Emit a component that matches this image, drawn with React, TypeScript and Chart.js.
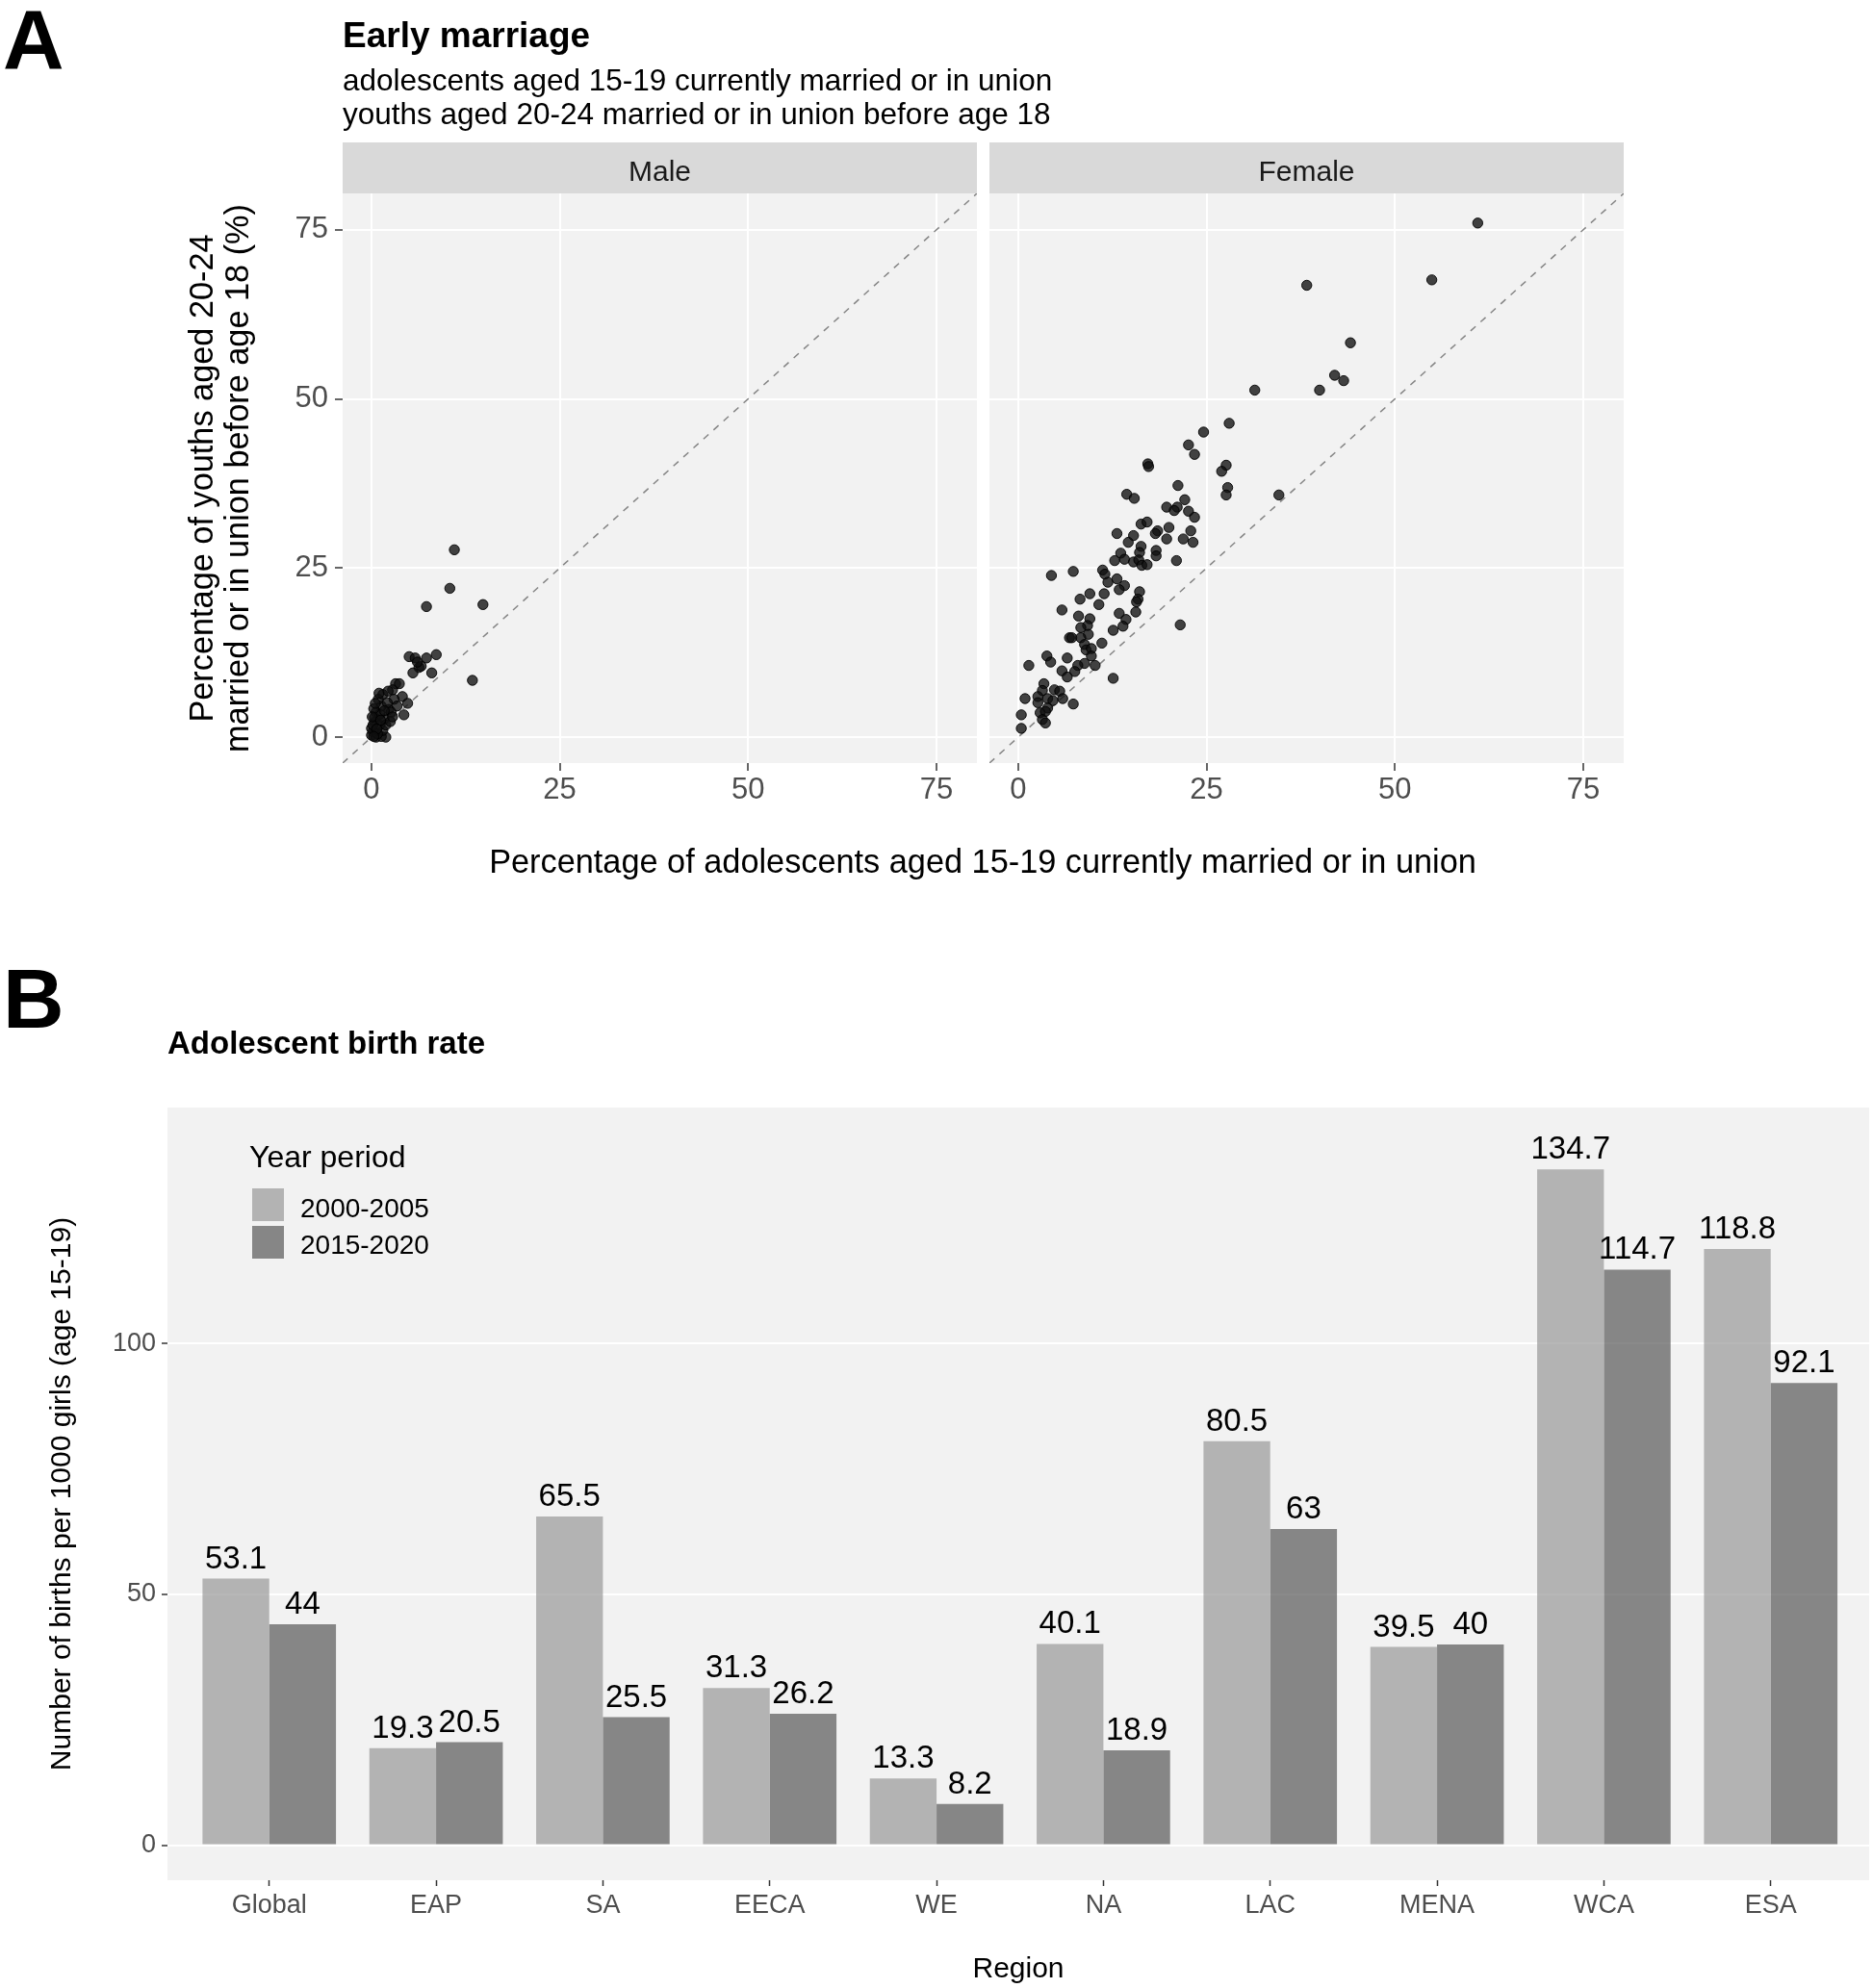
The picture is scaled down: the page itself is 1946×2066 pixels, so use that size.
import React, { useEffect, useRef } from "react";
import { Chart, registerables } from "chart.js";

Chart.register(...registerables);

const FONT = "'Liberation Sans', Arial, Helvetica, sans-serif";

// ---------- Panel A data ----------
const maleX = [11.0, 10.4, 7.3, 14.8, 13.4, 8.6, 5.0, 5.8, 7.3, 6.3, 6.6, 5.5, 8.0, 6.1, 3.2, 3.7, 2.8, 4.1, 4.8, 4.3, 3.0, 2.3, 1.5, 1.3, 0.6, 0.4, 0.2, 1.9, 1.1, 1.7, 2.1, 3.4, 2.6, 0.9, 0.0, 0.0, 0.6, 1.3, 1.5, 0.4, 1.1, 1.9, 1.7, 0.3, 0.8, 0.2, 2.5, 1.0, 2.2, 0.5, 0.1, 1.2, 0.7, 2.8, 0.3];
const maleY = [27.7, 22.0, 19.3, 19.6, 8.4, 12.2, 11.9, 11.7, 11.7, 10.3, 10.5, 9.5, 9.5, 11.1, 7.9, 7.9, 7.0, 6.0, 5.0, 3.3, 5.6, 4.1, 6.3, 4.6, 3.7, 2.2, 0.8, 0.0, 1.8, 2.7, 5.1, 4.6, 3.7, 5.6, 0.3, 1.3, 0.0, 0.1, 1.0, 2.9, 3.4, 1.8, 3.9, 4.2, 0.5, 1.8, 2.3, 6.5, 6.8, 5.0, 3.0, 2.5, 1.2, 3.0, 0.1];

const femaleX = [61.0, 38.3, 54.9, 44.1, 42.0, 43.2, 31.4, 40.0, 28.0, 24.6, 22.6, 23.4, 17.2, 17.3, 27.6, 27.0, 27.8, 27.6, 34.6, 21.2, 14.4, 15.4, 22.1, 19.7, 21.1, 20.7, 22.6, 23.4, 16.3, 17.1, 20.0, 18.5, 18.2, 22.9, 13.1, 15.3, 19.7, 21.9, 23.2, 14.6, 16.3, 13.6, 16.1, 18.3, 18.3, 12.8, 14.1, 15.3, 16.0, 16.4, 17.1, 21.0, 4.4, 7.3, 11.2, 11.5, 11.9, 13.1, 14.1, 13.4, 11.4, 9.5, 8.2, 10.7, 16.1, 15.9, 15.7, 5.8, 8.0, 13.4, 15.6, 14.3, 13.9, 12.6, 9.5, 9.2, 8.3, 9.3, 6.8, 7.1, 8.3, 11.1, 21.5, 8.8, 9.0, 9.7, 9.7, 3.8, 4.3, 6.5, 1.4, 8.8, 10.2, 7.9, 5.8, 7.5, 6.5, 12.6, 3.4, 3.2, 4.8, 5.5, 5.9, 0.9, 2.6, 2.6, 3.9, 4.6, 7.3, 3.9, 2.9, 3.6, 0.4, 3.2, 3.6, 0.4];
const femaleY = [76.0, 66.8, 67.6, 58.3, 53.5, 52.7, 51.3, 51.3, 46.4, 45.1, 43.2, 41.8, 40.4, 40.0, 40.2, 39.3, 36.9, 35.8, 35.8, 37.2, 35.9, 35.3, 35.1, 34.0, 34.0, 33.5, 33.4, 32.5, 31.5, 31.8, 31.0, 30.5, 30.1, 30.5, 30.1, 29.8, 29.3, 29.3, 28.8, 28.8, 28.2, 27.2, 27.3, 27.6, 26.8, 26.1, 26.3, 25.9, 26.2, 25.4, 25.5, 26.1, 23.9, 24.5, 24.7, 24.1, 22.9, 23.4, 22.4, 21.8, 21.2, 21.2, 20.4, 19.6, 21.5, 20.4, 20.0, 18.8, 17.9, 18.3, 18.5, 17.4, 16.4, 15.8, 17.5, 16.5, 16.2, 15.2, 14.7, 14.7, 14.7, 13.9, 16.6, 13.7, 12.9, 13.1, 12.0, 12.0, 11.1, 11.7, 10.6, 10.9, 10.6, 10.6, 9.8, 9.7, 8.9, 8.7, 7.9, 6.9, 7.0, 6.8, 5.7, 5.7, 6.0, 5.1, 5.7, 5.4, 4.9, 4.3, 3.6, 3.8, 3.3, 2.6, 2.1, 1.3];

const scatterTicks = [0, 25, 50, 75];
const AX_MIN = -3.83;
const AX_MAX = 80.38;

// ---------- Panel B data ----------
const regions = ["Global", "EAP", "SA", "EECA", "WE", "NA", "LAC", "MENA", "WCA", "ESA"];
const rate2000 = [53.1, 19.3, 65.5, 31.3, 13.3, 40.1, 80.5, 39.5, 134.7, 118.8];
const rate2015 = [44, 20.5, 25.5, 26.2, 8.2, 18.9, 63, 40, 114.7, 92.1];
const periodLabels = ["2000-2005", "2015-2020"];
const barTicks = [0, 50, 100];

const W = 1946;
const TOP_H = 960;
const BOT_H = 1106;

const panelBg = {
  id: "panelBg",
  beforeDraw(chart: any) {
    const { ctx, chartArea: a } = chart;
    ctx.save();
    ctx.fillStyle = "#f2f2f2";
    ctx.fillRect(a.left, a.top, a.right - a.left, a.bottom - a.top);
    ctx.restore();
  },
};

function stripPlugin(label: string) {
  return {
    id: "strip" + label,
    afterDraw(chart: any) {
      const { ctx, chartArea: a } = chart;
      ctx.save();
      ctx.fillStyle = "#d9d9d9";
      ctx.fillRect(a.left, 148, a.right - a.left, a.top - 148);
      ctx.fillStyle = "#1a1a1a";
      ctx.font = `30px ${FONT}`;
      ctx.textAlign = "center";
      ctx.textBaseline = "alphabetic";
      ctx.fillText(label, (a.left + a.right) / 2, 188);
      ctx.restore();
    },
  };
}

const topDecor = {
  id: "topDecor",
  afterDraw(chart: any) {
    const { ctx, chartArea: a } = chart;
    ctx.save();
    ctx.fillStyle = "#000";
    ctx.textBaseline = "alphabetic";
    ctx.textAlign = "left";
    ctx.font = `bold 88px ${FONT}`;
    ctx.fillText("A", 3, 71);
    ctx.font = `bold 37px ${FONT}`;
    ctx.fillText("Early marriage", 356, 49);
    ctx.font = `31.5px ${FONT}`;
    ctx.fillText("adolescents aged 15-19 currently married or in union", 356, 94);
    ctx.fillText("youths aged 20-24 married or in union before age 18", 356, 129);
    // x axis title (shared by both panels)
    ctx.font = `34.3px ${FONT}`;
    ctx.textAlign = "center";
    ctx.fillText("Percentage of adolescents aged 15-19 currently married or in union", 1021, 907);
    // y axis title, two lines, rotated
    const cy = (a.top + a.bottom) / 2;
    ctx.save();
    ctx.translate(221, cy);
    ctx.rotate(-Math.PI / 2);
    ctx.fillText("Percentage of youths aged 20-24", 0, 0);
    ctx.restore();
    ctx.save();
    ctx.translate(258, cy);
    ctx.rotate(-Math.PI / 2);
    ctx.fillText("married or in union before age 18 (%)", 0, 0);
    ctx.restore();
    ctx.restore();
  },
};

function scatterConfig(xs: number[], ys: number[], isMale: boolean): any {
  return {
    type: "scatter",
    data: {
      datasets: [
        {
          type: "line",
          data: [
            { x: AX_MIN, y: AX_MIN },
            { x: AX_MAX, y: AX_MAX },
          ],
          borderColor: "#858585",
          borderWidth: 1.5,
          borderDash: [7, 7],
          pointRadius: 0,
          fill: false,
          order: 2,
        },
        {
          data: xs.map((x, i) => ({ x, y: ys[i] })),
          backgroundColor: "rgba(15,15,15,0.78)",
          borderColor: "rgba(0,0,0,0.9)",
          borderWidth: 1,
          pointRadius: 5.2,
          order: 1,
        },
      ],
    },
    options: {
      animation: false,
      responsive: false,
      events: [],
      layout: {
        padding: {
          left: isMale ? 0 : 1028,
          right: isMale ? W - 1015 : W - 1687,
          top: 201,
          bottom: TOP_H - 793 - 70,
        },
      },
      plugins: {
        legend: { display: false },
        tooltip: { enabled: false },
        title: { display: false },
      },
      scales: {
        x: {
          type: "linear",
          min: AX_MIN,
          max: AX_MAX,
          afterBuildTicks: (ax: any) => {
            ax.ticks = scatterTicks.map((v) => ({ value: v }));
          },
          afterFit: (ax: any) => {
            ax.height = 70;
          },
          grid: { color: "#ffffff", lineWidth: 2, tickColor: "#333333", tickLength: 8, tickWidth: 1.5 },
          border: { display: false },
          ticks: { color: "#4d4d4d", font: { family: FONT, size: 31 }, padding: 2, maxRotation: 0 },
        },
        y: {
          type: "linear",
          min: AX_MIN,
          max: AX_MAX,
          afterBuildTicks: (ax: any) => {
            ax.ticks = scatterTicks.map((v) => ({ value: v }));
          },
          afterFit: (ax: any) => {
            ax.width = isMale ? 356 : 0;
          },
          grid: {
            color: "#ffffff",
            lineWidth: 2,
            tickColor: "#333333",
            tickLength: 8,
            tickWidth: 1.5,
            drawTicks: isMale,
          },
          border: { display: false },
          ticks: { display: isMale, color: "#4d4d4d", font: { family: FONT, size: 31 }, padding: 7 },
        },
      },
    },
    plugins: isMale ? [panelBg, stripPlugin("Male"), topDecor] : [panelBg, stripPlugin("Female")],
  };
}

const barDecor = {
  id: "barDecor",
  afterDraw(chart: any) {
    const { ctx, chartArea: a } = chart;
    ctx.save();
    ctx.fillStyle = "#000";
    ctx.textBaseline = "alphabetic";
    ctx.textAlign = "left";
    ctx.font = `bold 88px ${FONT}`;
    ctx.fillText("B", 3, 108);
    ctx.font = `bold 33px ${FONT}`;
    ctx.fillText("Adolescent birth rate", 174, 135);

    // legend
    const ds = chart.data.datasets;
    ctx.font = `32px ${FONT}`;
    ctx.fillText("Year period", 259, 253);
    const keyTops = [274, 313];
    const labelBases = [305, 343];
    ds.forEach((d: any, i: number) => {
      ctx.fillStyle = "#f2f2f2";
      ctx.fillRect(261, keyTops[i], 35, 36);
      ctx.fillStyle = d.backgroundColor;
      ctx.fillRect(262, keyTops[i] + 1, 33, 34);
      ctx.fillStyle = "#000";
      ctx.font = `28px ${FONT}`;
      ctx.fillText(d.label, 312, labelBases[i]);
    });

    // axis titles
    ctx.font = `30px ${FONT}`;
    ctx.textAlign = "center";
    ctx.fillText("Region", (a.left + a.right) / 2, 1095);
    ctx.save();
    ctx.translate(73, (a.top + a.bottom) / 2);
    ctx.rotate(-Math.PI / 2);
    ctx.fillText("Number of births per 1000 girls (age 15-19)", 0, 0);
    ctx.restore();
    ctx.restore();
  },
  afterDatasetsDraw(chart: any) {
    const { ctx } = chart;
    ctx.save();
    ctx.fillStyle = "#000";
    ctx.font = `33px ${FONT}`;
    ctx.textAlign = "center";
    ctx.textBaseline = "alphabetic";
    chart.data.datasets.forEach((d: any, di: number) => {
      const meta = chart.getDatasetMeta(di);
      meta.data.forEach((el: any, i: number) => {
        ctx.fillText(String(d.data[i].y), el.x, el.y - 11);
      });
    });
    ctx.restore();
  },
};

function barConfig(): any {
  return {
    type: "bar",
    data: {
      datasets: [
        {
          label: periodLabels[0],
          data: regions.map((_, i) => ({ x: i, y: rate2000[i] })),
          backgroundColor: "rgba(153,153,153,0.7)",
          borderWidth: 0,
          categoryPercentage: 0.8,
          barPercentage: 1.0,
        },
        {
          label: periodLabels[1],
          data: regions.map((_, i) => ({ x: i, y: rate2015[i] })),
          backgroundColor: "rgba(89,89,89,0.7)",
          borderWidth: 0,
          categoryPercentage: 0.8,
          barPercentage: 1.0,
        },
      ],
    },
    options: {
      animation: false,
      responsive: false,
      events: [],
      layout: { padding: { left: 0, right: W - 1942, top: 191, bottom: BOT_H - 994 - 60 } },
      plugins: {
        legend: { display: false },
        tooltip: { enabled: false },
        title: { display: false },
      },
      scales: {
        x: {
          type: "linear",
          min: -0.61,
          max: 9.59,
          offset: false,
          afterBuildTicks: (ax: any) => {
            ax.ticks = regions.map((_, i) => ({ value: i }));
          },
          afterFit: (ax: any) => {
            ax.height = 60;
          },
          grid: { offset: false, drawOnChartArea: false, tickColor: "#333333", tickLength: 6, tickWidth: 1.5 },
          border: { display: false },
          ticks: {
            color: "#4d4d4d",
            font: { family: FONT, size: 27 },
            padding: 4,
            maxRotation: 0,
            autoSkip: false,
            callback: (v: any) => regions[Math.round(Number(v))] ?? "",
          },
        },
        y: {
          type: "linear",
          min: -7,
          max: 147,
          afterBuildTicks: (ax: any) => {
            ax.ticks = barTicks.map((v) => ({ value: v }));
          },
          afterFit: (ax: any) => {
            ax.width = 174;
          },
          grid: { color: "#ffffff", lineWidth: 2, tickColor: "#333333", tickLength: 6, tickWidth: 1.5 },
          border: { display: false },
          ticks: { color: "#4d4d4d", font: { family: FONT, size: 27 }, padding: 6 },
        },
      },
    },
    plugins: [panelBg, barDecor],
  };
}

export default function App() {
  const maleRef = useRef<HTMLCanvasElement | null>(null);
  const femaleRef = useRef<HTMLCanvasElement | null>(null);
  const barRef = useRef<HTMLCanvasElement | null>(null);

  useEffect(() => {
    const charts: Chart[] = [];
    if (maleRef.current) charts.push(new Chart(maleRef.current, scatterConfig(maleX, maleY, true)));
    if (femaleRef.current) charts.push(new Chart(femaleRef.current, scatterConfig(femaleX, femaleY, false)));
    if (barRef.current) charts.push(new Chart(barRef.current, barConfig()));
    return () => {
      charts.forEach((c) => c.destroy());
    };
  }, []);

  const canvasStyle = (top: number, h: number): React.CSSProperties => ({
    position: "absolute",
    left: 0,
    top,
    width: W,
    height: h,
    display: "block",
  });

  return (
    <div style={{ position: "absolute", left: 0, top: 0, width: W, height: TOP_H + BOT_H, background: "#ffffff", overflow: "hidden" }}>
      <canvas ref={maleRef} width={W} height={TOP_H} style={canvasStyle(0, TOP_H)} />
      <canvas ref={femaleRef} width={W} height={TOP_H} style={canvasStyle(0, TOP_H)} />
      <canvas ref={barRef} width={W} height={BOT_H} style={canvasStyle(TOP_H, BOT_H)} />
    </div>
  );
}
